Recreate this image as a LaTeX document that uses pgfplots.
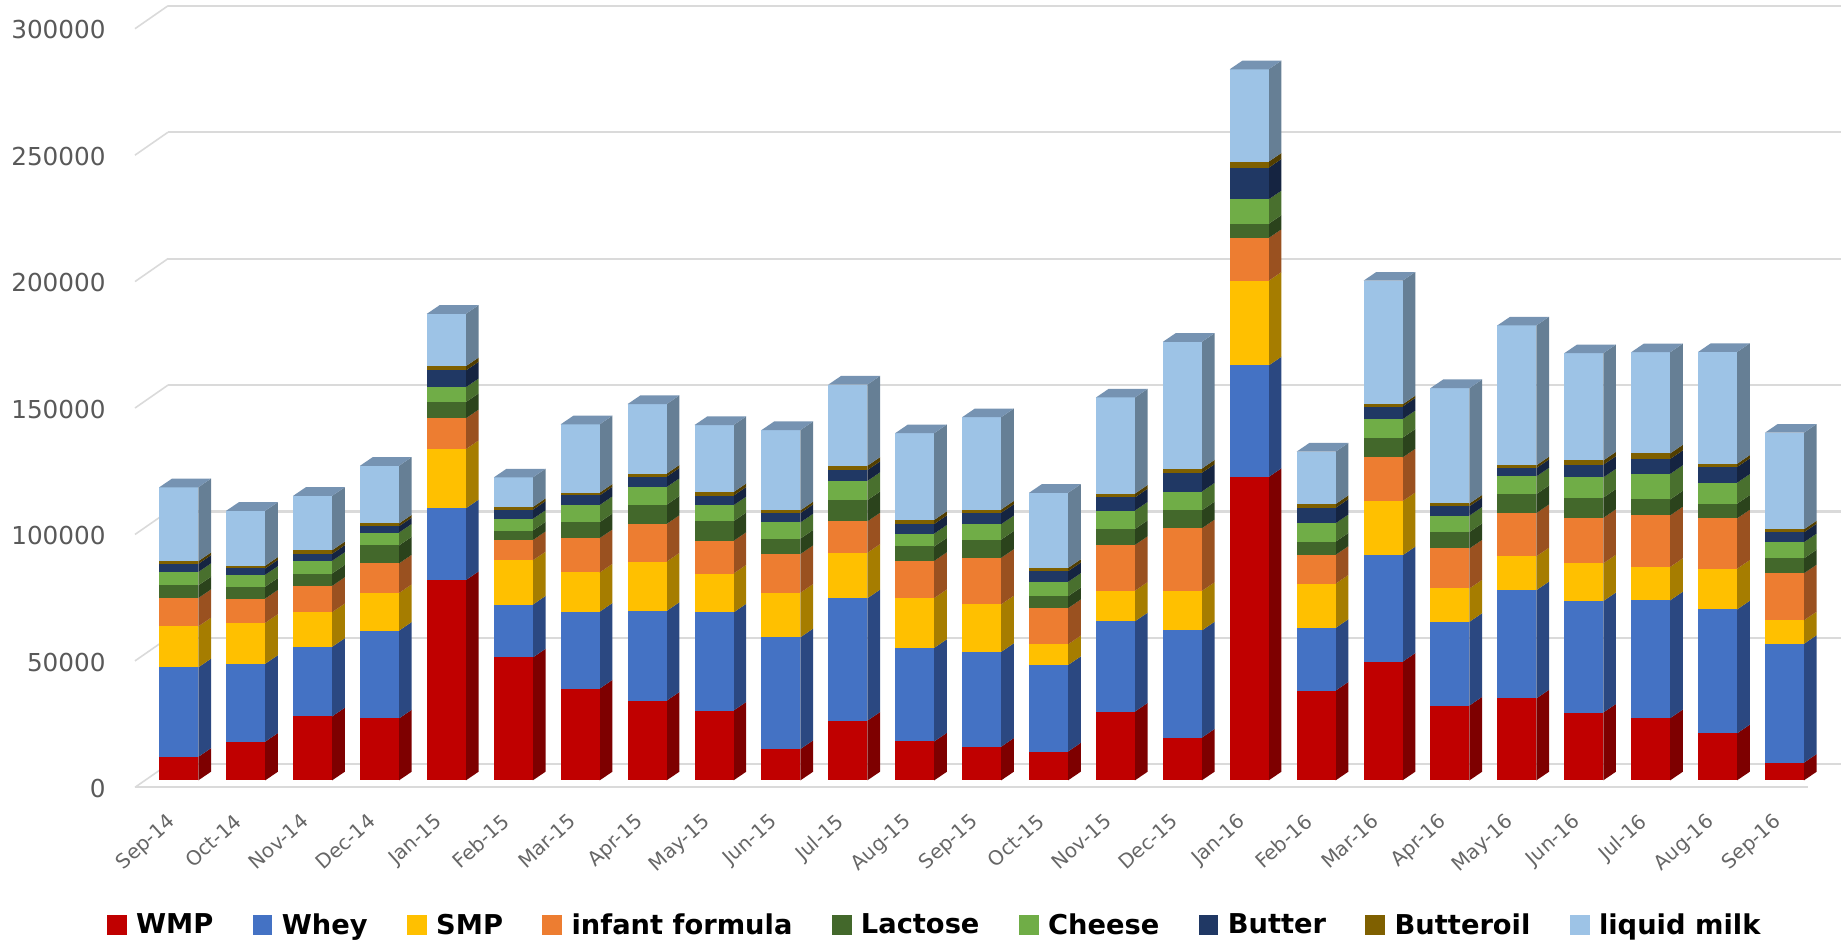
\documentclass[border=0pt]{standalone}
\usepackage{pgfplots}
\usepackage{pgfplotstable}
\usepackage{fontspec}
\pgfplotsset{compat=1.18}
\setmainfont{DejaVu Sans}
\definecolor{cA}{HTML}{C00000}\definecolor{dA}{HTML}{7E0000}
\definecolor{cB}{HTML}{4472C4}\definecolor{dB}{HTML}{2B4881}
\definecolor{cC}{HTML}{FFC000}\definecolor{dC}{HTML}{A67D00}
\definecolor{cD}{HTML}{ED7D31}\definecolor{dD}{HTML}{9A5120}
\definecolor{cE}{HTML}{43682B}\definecolor{dE}{HTML}{2B431C}
\definecolor{cF}{HTML}{70AD47}\definecolor{dF}{HTML}{49702E}
\definecolor{cG}{HTML}{203864}\definecolor{dG}{HTML}{152441}
\definecolor{cH}{HTML}{7F6000}\definecolor{dH}{HTML}{523E00}
\definecolor{cI}{HTML}{9DC3E6}\definecolor{dI}{HTML}{667F95}
\definecolor{tI}{HTML}{7693B2}
\definecolor{gridc}{HTML}{DADADA}
\pgfplotstableread{
idx WMP Whey SMP Inf Lac Che But Boil Milk
0 9300 35400 16200 11200 5000 5300 3200 1100 29200
1 15300 30800 16200 9600 4700 4700 2500 1100 21700
2 25300 27500 13700 10400 4900 5000 2800 1400 21500
3 24500 34700 14900 11700 7100 5100 2500 1100 22800
4 79200 28400 23400 12200 6400 5900 6600 1700 20700
5 48600 20900 17500 8000 3800 4600 3600 1100 11700
6 36300 30400 15500 13600 6300 6800 3800 1100 27000
7 31500 35500 19500 14900 7600 7000 4100 1200 27500
8 27600 38800 15400 12900 7800 6300 3800 1400 26500
9 12400 44200 17600 15300 6100 6400 3700 1100 31700
10 23600 48400 18000 12400 8400 7600 4300 1700 32100
11 15400 37000 19700 14700 5700 5100 3800 1600 34300
12 13300 37500 18800 18400 7200 6100 4500 1300 36500
13 11400 34200 8200 14300 4700 5700 4200 1300 29700
14 27200 35700 12100 18100 6300 7300 5200 1500 38000
15 16900 42400 15600 24800 7100 7400 7400 1700 50100
16 120000 44100 33500 16900 5600 9700 12500 2400 36500
17 35500 24800 17500 11400 5200 7300 6100 1500 20700
18 46900 42100 21400 17300 7800 7300 5000 900 48900
19 29600 33100 13200 15800 6500 6500 3700 1100 45600
20 32400 42800 13400 17100 7500 7000 3300 1100 55300
21 26800 44100 14900 18000 8000 8000 5000 1700 42400
22 24600 46600 13200 20400 6300 10100 5900 2200 40000
23 18600 49000 16100 19900 5800 8300 6200 1300 44200
24 7000 47000 9300 18600 5900 6400 3900 1200 38200
}\milk
\def\hw{0.2915}
\def\ddx{0.19}
\def\ddy{3420}
% one stacked segment of one bar: {row}{column}{colour letter}
\newcommand\seg[3]{%
  \pgfplotstablegetelem{#1}{#2}\of\milk
  \edef\ytop{\the\numexpr\ybase+\pgfplotsretval\relax}%
  \edef\ybs{\the\numexpr\ybase+\ddy\relax}%
  \edef\yts{\the\numexpr\ytop+\ddy\relax}%
  \edef\temp{\noexpand\addplot[forget plot,draw=none,fill=d#3] coordinates {(\xr,\ybase)(\xs,\ybs)(\xs,\yts)(\xr,\ytop)} --cycle;
    \noexpand\addplot[forget plot,draw=none,fill=c#3] coordinates {(\xl,\ybase)(\xr,\ybase)(\xr,\ytop)(\xl,\ytop)} --cycle;}%
  \temp
  \global\let\ybase\ytop
}
\begin{document}
\begin{tikzpicture}[x=1pt,y=1pt]
\useasboundingbox (0,0) rectangle (926,472.8);
\begin{axis}[
  at={(0,0)},anchor=south west,
  scale only axis,
  width=926pt,height=472.8pt,
  xmin=-2.6726,xmax=24.905,
  ymin=-63930,ymax=308600,
  axis lines=none,
  clip=false,
  legend style={draw=none,fill=none,at={(0.5060,0.0176)},anchor=center,
    font=\bfseries\fontsize{13.7}{15}\selectfont,legend columns=9,
    /tikz/every even column/.append style={column sep=19.7pt},
    /tikz/every odd column/.append style={column sep=4.7pt},
    nodes={inner sep=0pt}},
  legend cell align=left,
  legend image code/.code={\fill[draw=none,#1] (0pt,-5pt) rectangle (10pt,5pt);},
]
% grid
\pgfplotsinvokeforeach{0,50000,100000,150000,200000,250000,300000}{
  \edef\ya{\the\numexpr#1-2762\relax}\edef\yb{\the\numexpr#1+6314\relax}
  \edef\temp{\noexpand\addplot[forget plot,gridc,line width=0.8pt] coordinates {(-0.655,\ya)(-0.161,\yb)};
   \noexpand\addplot[forget plot,gridc,line width=1.1pt] coordinates {(-0.161,\yb)(24.85,\yb)};}
  \temp
}
\addplot[forget plot,gridc,line width=1.1pt] coordinates {(-0.655,-2762)(24.35,-2762)};
% bars
\pgfplotsinvokeforeach{0,...,24}{
  \pgfmathsetmacro{\xl}{#1-\hw}\pgfmathsetmacro{\xr}{#1+\hw}
  \pgfmathsetmacro{\xs}{#1+\hw+\ddx}\pgfmathsetmacro{\xt}{#1-\hw+\ddx}
  \gdef\ybase{0}
  \seg{#1}{WMP}{A}\seg{#1}{Whey}{B}\seg{#1}{SMP}{C}\seg{#1}{Inf}{D}\seg{#1}{Lac}{E}
  \seg{#1}{Che}{F}\seg{#1}{But}{G}\seg{#1}{Boil}{H}\seg{#1}{Milk}{I}
  \edef\yts{\the\numexpr\ybase+\ddy\relax}
  \edef\temp{\noexpand\addplot[forget plot,draw=none,fill=tI] coordinates {(\xl,\ybase)(\xr,\ybase)(\xs,\yts)(\xt,\yts)} --cycle;}
  \temp
}
% tick labels
\pgfplotsinvokeforeach{0,50000,100000,150000,200000,250000,300000}{
  \edef\yl{\the\numexpr#1-3200\relax}
  \edef\temp{\noexpand\node[anchor=east,text=black!65,font=\noexpand\fontsize{12.4}{14}\noexpand\selectfont,inner sep=0pt] at (axis cs:-1.088,\yl) {#1};}
  \temp
}
\foreach \n/\lab in {0/Sep-14,1/Oct-14,2/Nov-14,3/Dec-14,4/Jan-15,5/Feb-15,6/Mar-15,7/Apr-15,8/May-15,9/Jun-15,10/Jul-15,11/Aug-15,12/Sep-15,13/Oct-15,14/Nov-15,15/Dec-15,16/Jan-16,17/Feb-16,18/Mar-16,19/Apr-16,20/May-16,21/Jun-16,22/Jul-16,23/Aug-16,24/Sep-16}{
  \edef\temp{\noexpand\node[rotate=42,anchor=north east,text=black!60,font=\noexpand\fontsize{10}{11}\noexpand\selectfont,inner sep=0pt] at (axis cs:\n-0.19,-12500) {\lab};}
  \temp
}
% legend
\addlegendimage{fill=cA}\addlegendentry{WMP}
\addlegendimage{fill=cB}\addlegendentry{Whey}
\addlegendimage{fill=cC}\addlegendentry{SMP}
\addlegendimage{fill=cD}\addlegendentry{infant formula}
\addlegendimage{fill=cE}\addlegendentry{Lactose}
\addlegendimage{fill=cF}\addlegendentry{Cheese}
\addlegendimage{fill=cG}\addlegendentry{Butter}
\addlegendimage{fill=cH}\addlegendentry{Butteroil}
\addlegendimage{fill=cI}\addlegendentry{liquid milk}
\end{axis}
\end{tikzpicture}
\end{document}
